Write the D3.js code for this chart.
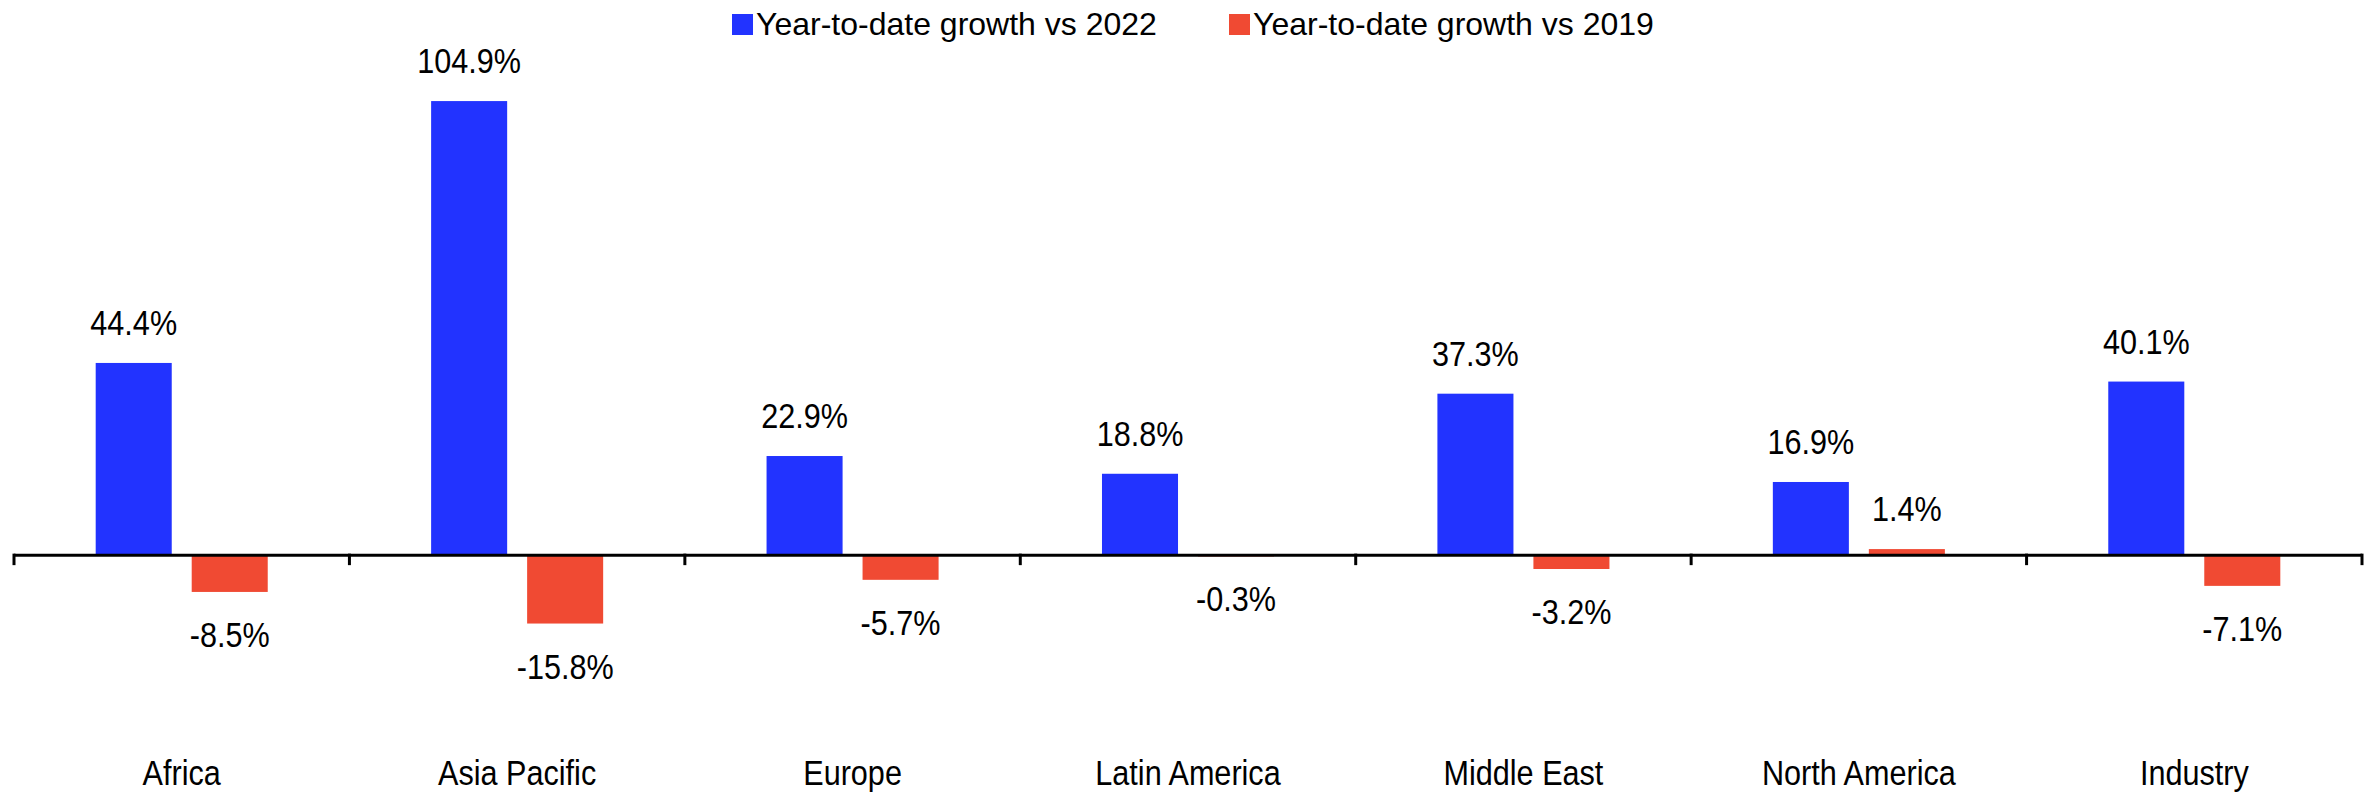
<!DOCTYPE html>
<html>
<head>
<meta charset="utf-8">
<script src="https://cdn.jsdelivr.net/npm/d3@7/dist/d3.min.js"></script>
<style>
  html, body { margin: 0; padding: 0; background: #fff; }
  svg { display: block; }
  text { font-family: "Liberation Sans", Arial, sans-serif; fill: #000; }
</style>
</head>
<body>
<svg id="chart" width="2374" height="795"></svg>
<script>
// Regions and year-to-date growth figures (%)
const regions = ["Africa", "Asia Pacific", "Europe", "Latin America", "Middle East", "North America", "Industry"];
const seriesNames = ["Year-to-date growth vs 2022", "Year-to-date growth vs 2019"];
const growthVs2022 = [44.4, 104.9, 22.9, 18.8, 37.3, 16.9, 40.1];
const growthVs2019 = [-8.5, -15.8, -5.7, -0.3, -3.2, 1.4, -7.1];
const seriesColors = ["#2233ff", "#f04a33"];

const svg = d3.select("#chart");
const labelSize = 30.6;   // value and category labels
const labelStretch = 1.14; // tall, narrow lettering
const legendSize = 32;

const rows = regions.map((r, i) => ({ region: r, values: [growthVs2022[i], growthVs2019[i]] }));

// Scales
const x0 = d3.scaleBand().domain(regions).range([14, 2362]).paddingInner(0).paddingOuter(0);
const x1 = d3.scaleBand().domain([0, 1]).range([0, x0.bandwidth()]).paddingInner(0.208).paddingOuter(0.851);
const y = d3.scaleLinear().domain([-30, 110]).range([685, 79]);

const fmt = v => (v < 0 ? "-" : "") + d3.format(".1f")(Math.abs(v)) + "%";

// Bars
const groups = svg.append("g").selectAll("g")
  .data(rows).join("g")
  .attr("transform", d => `translate(${x0(d.region)},0)`);

groups.selectAll("rect")
  .data(d => d.values.map((v, k) => ({ v, k })))
  .join("rect")
  .attr("x", d => x1(d.k))
  .attr("width", x1.bandwidth())
  .attr("y", d => y(Math.max(0, d.v)))
  .attr("height", d => Math.abs(y(d.v) - y(0)))
  .attr("fill", d => seriesColors[d.k]);

// Value labels: above positive bars, below negative ones
groups.selectAll("text.val")
  .data(d => d.values.map((v, k) => ({ v, k })))
  .join("text")
  .attr("class", "val")
  .attr("transform", d => {
    const tx = x1(d.k) + x1.bandwidth() / 2;
    const ty = d.v >= 0 ? y(d.v) - 28 : y(d.v) + 55;
    return `translate(${tx},${ty}) scale(1,${labelStretch})`;
  })
  .attr("text-anchor", "middle")
  .style("font-size", labelSize + "px")
  .text(d => fmt(d.v));

// Category axis along zero
const axisG = svg.append("g").attr("transform", `translate(0,${y(0)})`);
const [r0, r1] = x0.range();
axisG.append("path")
  .attr("d", `M${r0},0H${r1}`)
  .attr("stroke", "#000").attr("stroke-width", 3).attr("fill", "none");
const bounds = regions.map(r => x0(r)).concat([r1]);
axisG.selectAll("line.b").data(bounds).join("line")
  .attr("class", "b")
  .attr("x1", d => d).attr("x2", d => d)
  .attr("y1", -1.5).attr("y2", 10)
  .attr("stroke", "#000").attr("stroke-width", 3);

// Category labels
svg.append("g").selectAll("text")
  .data(regions).join("text")
  .attr("transform", d => `translate(${x0(d) + x0.bandwidth() / 2},785) scale(1,${labelStretch})`)
  .attr("text-anchor", "middle")
  .style("font-size", labelSize + "px")
  .text(d => d);

// Legend
const legendX = [732, 1229];
const legend = svg.append("g").selectAll("g")
  .data(seriesNames).join("g")
  .attr("transform", (d, i) => `translate(${legendX[i]},0)`);
legend.append("rect")
  .attr("x", 0).attr("y", 14).attr("width", 21).attr("height", 21)
  .attr("fill", (d, i) => seriesColors[i]);
legend.append("text")
  .attr("x", 24).attr("y", 35)
  .style("font-size", legendSize + "px")
  .text(d => d);
</script>
</body>
</html>
